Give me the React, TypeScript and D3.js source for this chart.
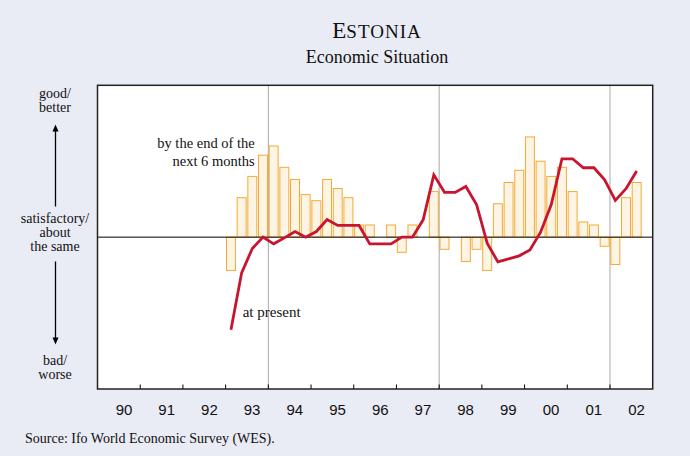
import React, { useEffect } from 'react';
import * as d3 from 'd3';

const yearLabels = ['90', '91', '92', '93', '94', '95', '96', '97', '98', '99', '00', '01', '02'];
const firstYear = 1990;
const seriesStart = 1993.0; // first quarter shown
// expectations: by the end of the next 6 months (bars)
const expectations = [
  -22, 26, 40, 54, 60, 46, 38, 28, 24, 38, 32, 26, 8, 8, 0, 8, -10, 8, 0, 30,
  -8, 0, -16, -8, -22, 22, 36, 44, 66, 50, 40, 46, 30, 10, 8, -6, -18, 26, 36,
];
// present situation (line)
const present = [
  -61, -23.5, -7.5, 0, -4.4, -0.5, 3.7, 0, 3.7, 11.6, 7.7, 7.7, 7.7, -4.4, -4.4,
  -4.4, 0, 0, 11.4, 41, 29.5, 29.5, 33.4, 21.5, -4, -16.3, -14.3, -12.3, -8.4,
  3.3, 21.5, 51.6, 51.6, 45.7, 45.7, 37.8, 24.2, 31.9, 43.5,
];
const markerYears = [1994, 1998, 2002];

const W = 690;
const H = 456;
const L = 97.5, R = 652.7, T = 85.3, B = 389;
const BG = '#e9ebf5';
const serif = '"Liberation Serif", "Times New Roman", serif';
const sans = '"Liberation Sans", Arial, sans-serif';

export default function App() {
  useEffect(() => {
    document.body.style.margin = '0';
    document.body.style.background = BG;
  }, []);

  const x = d3.scaleLinear().domain([firstYear, firstYear + yearLabels.length]).range([L, R]);
  const y = d3.scaleLinear().domain([-100, 100]).range([B, T]);
  const q = 0.25;
  const bandW = x(firstYear + q) - x(firstYear);
  const barW = bandW * 0.84;
  const cx = (i: number) => x(seriesStart + (i + 0.5) * q);

  const line = d3
    .line<number>()
    .x((_, i) => cx(i))
    .y((d) => y(d));

  const yearW = x(firstYear + 1) - x(firstYear);

  return (
    <svg width={W} height={H} style={{ display: 'block', background: BG }}>
      <rect x={0} y={0} width={W} height={H} fill={BG} />
      {/* title */}
      <text x={377} y={38.3} textAnchor="middle" fontFamily={serif} fill="#111">
        <tspan fontSize={23}>E</tspan>
        <tspan fontSize={19} letterSpacing={1}>STONIA</tspan>
      </text>
      <text x={377} y={63} textAnchor="middle" fontFamily={serif} fontSize={18} fill="#111">
        Economic Situation
      </text>

      {/* plot area */}
      <rect x={L} y={T} width={R - L} height={B - T} fill="#fff" />

      {markerYears.map((yr) => (
        <line key={yr} x1={x(yr)} x2={x(yr)} y1={T} y2={B} stroke="#a8a8a8" strokeWidth={1} />
      ))}

      {/* bars */}
      {expectations.map((v, i) =>
        v === 0 ? null : (
          <rect
            key={i}
            x={cx(i) - barW / 2}
            y={Math.min(y(v), y(0))}
            width={barW}
            height={Math.abs(y(v) - y(0))}
            fill="#fdf4e4"
            stroke="#f3aa35"
            strokeWidth={1}
          />
        )
      )}

      {/* zero line */}
      <line x1={L} x2={R} y1={y(0)} y2={y(0)} stroke="#000" strokeWidth={1} />

      {/* present line */}
      <path d={line(present) || ''} fill="none" stroke="#c8142f" strokeWidth={2.8} strokeLinejoin="miter" />

      {/* ticks */}
      {yearLabels.slice(1).map((_, i) => (
        <line
          key={i}
          x1={x(firstYear + i + 1)}
          x2={x(firstYear + i + 1)}
          y1={B}
          y2={B - 4.5}
          stroke="#000"
          strokeWidth={1}
        />
      ))}

      {/* frame */}
      <rect x={L} y={T} width={R - L} height={B - T} fill="none" stroke="#222" strokeWidth={1.5} />

      {/* x labels */}
      {yearLabels.map((lab, i) => (
        <text
          key={lab}
          x={x(firstYear + i) + yearW * 0.62}
          y={415}
          textAnchor="middle"
          fontFamily={sans}
          fontSize={15}
          fill="#111"
        >
          {lab}
        </text>
      ))}

      {/* annotations */}
      <text x={254.7} y={148} textAnchor="end" fontFamily={serif} fontSize={14.5} fill="#111">
        by the end of the
      </text>
      <text x={254.7} y={166} textAnchor="end" fontFamily={serif} fontSize={14.5} fill="#111">
        next 6 months
      </text>
      <text x={242.7} y={317.3} fontFamily={serif} fontSize={15} fill="#111">
        at present
      </text>

      {/* left scale labels */}
      <g fontFamily={serif} fontSize={14} fill="#111" textAnchor="middle">
        <text x={55} y={97.5}>good/</text>
        <text x={55} y={111.5}>better</text>
        <text x={55} y={222.5}>satisfactory/</text>
        <text x={55} y={236.5}>about</text>
        <text x={55} y={250.5}>the same</text>
        <text x={55} y={365}>bad/</text>
        <text x={55} y={379}>worse</text>
      </g>
      <line x1={55.5} x2={55.5} y1={206.5} y2={131} stroke="#000" strokeWidth={1.3} />
      <path d="M52.5,131.5 L55.5,124.5 L58.5,131.5 Z" fill="#000" />
      <line x1={55.5} x2={55.5} y1={261.5} y2={338} stroke="#000" strokeWidth={1.3} />
      <path d="M52.5,337.5 L55.5,344.5 L58.5,337.5 Z" fill="#000" />

      {/* source */}
      <text x={25} y={443} fontFamily={serif} fontSize={14} fill="#111">
        Source: Ifo World Economic Survey (WES).
      </text>
    </svg>
  );
}
